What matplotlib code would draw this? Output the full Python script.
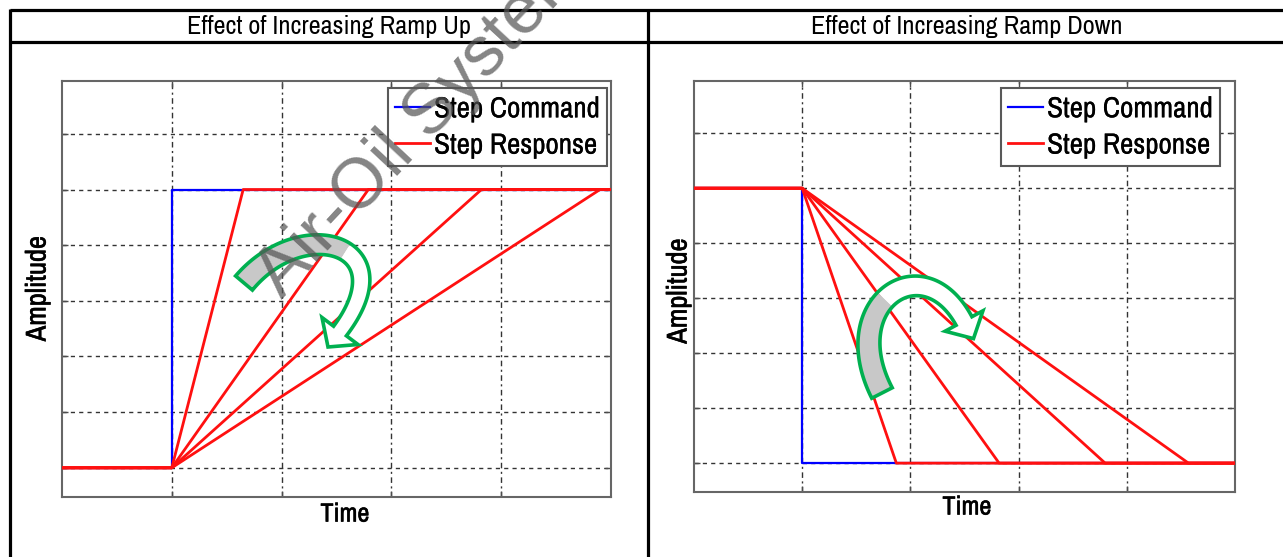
import matplotlib
matplotlib.use('Agg')
import matplotlib.pyplot as plt
import matplotlib.patheffects as pe
import numpy as np
from matplotlib import font_manager
from matplotlib.patches import Polygon
from matplotlib.lines import Line2D

# ---------------- data ----------------
time_limits = (0, 5)
amp_limits = (-0.105, 1.39)
step_time = 1.0
grid_x = [1, 2, 3, 4]
grid_y = [0, 0.2, 0.4, 0.6, 0.8, 1.0, 1.2]
ramp_up_end_times = [1.65, 2.79, 3.82, 4.90]
ramp_down_end_times = [1.87, 2.82, 3.80, 4.57]
titles = ['Effect of Increasing Ramp Up', 'Effect of Increasing Ramp Down']
legend_labels = ['Step Command', 'Step Response']
x_label = 'Time'
y_label = 'Amplitude'
watermark = 'Air-Oil Systems'


# ---------------- fonts ----------------
def find_condensed():
    fl = font_manager.fontManager.ttflist
    for f in fl:
        if ('Narrow' in f.name or 'Condensed' in f.name) and f.style == 'normal':
            return dict(family=f.name)
    for f in fl:
        if str(f.stretch) in ('condensed', 'semi-condensed', 'extra-condensed') \
                and f.style == 'normal' and f.weight in (400, 'normal', 'regular', 'book'):
            return dict(family=f.name, stretch=f.stretch)
    return dict(family=['Roboto', 'Liberation Sans', 'DejaVu Sans'])


COND = find_condensed()
REG = dict(family=['Liberation Sans', 'Roboto', 'DejaVu Sans'])

W, H = 1283, 557
fig = plt.figure(figsize=(W / 100, H / 100), dpi=100)
renderer = fig.canvas.get_renderer()


def fit_size(s, props, target_px):
    t = fig.text(0, 0, s, size=10, **props)
    w = t.get_window_extent(renderer).width
    t.remove()
    return 10.0 * target_px / w


LEG = dict(COND)
LAB = dict(COND)

title_size = fit_size(titles[0], COND, 284)
legend_size = fit_size(legend_labels[0], LEG, 166)
ylab_size = fit_size(y_label, LAB, 106)
xlab_size = fit_size(x_label, LAB, 49)
wm_size = fit_size('Air-Oil Syste', REG, 395)

heavy_leg = [pe.withStroke(linewidth=0.15, foreground='black')]
heavy_lab = [pe.withStroke(linewidth=0.4, foreground='black')]


def px_axes(x0, y0, x1, y1):
    return fig.add_axes([x0 / W, 1 - y1 / H, (x1 - x0) / W, (y1 - y0) / H])


axL = px_axes(62, 81, 611, 497)
axR = px_axes(694, 81, 1235, 492)

BLUE = '#0000ff'
RED = '#ff1010'

for ax in (axL, axR):
    ax.set_xlim(time_limits)
    ax.set_ylim(amp_limits)
    ax.set_xticks(grid_x)
    ax.set_yticks(grid_y)
    ax.tick_params(direction='in', length=4, width=1, color='0.3',
                   labelbottom=False, labelleft=False, top=True, right=True)
    for s in ax.spines.values():
        s.set_color('0.4')
        s.set_linewidth(1.5)
    ax.xaxis.grid(True, color='0.2', lw=1.0, ls=(0, (4, 2.5, 1.5, 2.5)))
    ax.yaxis.grid(True, color='0.2', lw=1.0, ls=(0, (3, 3)))
    ax.set_axisbelow(True)

# ramp up chart
axL.plot([time_limits[0], step_time, step_time, time_limits[1]], [0, 0, 1, 1],
         color=BLUE, lw=1.6, zorder=2)
for e in ramp_up_end_times:
    axL.plot([time_limits[0], step_time, e, time_limits[1]], [0, 0, 1, 1],
             color=RED, lw=2.0, zorder=3)

# ramp down chart
axR.plot([time_limits[0], step_time, step_time, time_limits[1]], [1, 1, 0, 0],
         color=BLUE, lw=1.6, zorder=2)
for e in ramp_down_end_times:
    axR.plot([time_limits[0], step_time, e, time_limits[1]], [1, 1, 0, 0],
             color=RED, lw=2.0, zorder=3)

handles = [Line2D([], [], color=BLUE, lw=1.6), Line2D([], [], color=RED, lw=2.0)]
for ax, anchor in ((axL, (0.9927, 0.983)), (axR, (0.9723, 0.983))):
    leg = ax.legend(handles, legend_labels, loc='upper right', bbox_to_anchor=anchor,
                    borderaxespad=0, frameon=True, fancybox=False, edgecolor='0.35',
                    framealpha=1, prop=dict(size=legend_size, **LEG),
                    handlelength=1.2, handletextpad=0.15, labelspacing=0.32,
                    borderpad=0.25)
    leg.get_frame().set_linewidth(1.5)
    leg.set_zorder(4)
    for txt in leg.get_texts():
        txt.set_path_effects(heavy_leg)

axL.set_xlabel(x_label, size=xlab_size, **LAB)
axL.xaxis.set_label_coords(0.5155, -0.041)
axL.xaxis.label.set_va('center')
axR.set_xlabel(x_label, size=xlab_size, **LAB)
axR.xaxis.set_label_coords(0.5046, -0.0365)
axR.xaxis.label.set_va('center')
axL.set_ylabel(y_label, size=ylab_size, **LAB)
axL.yaxis.label.set(va='center', ha='center', rotation_mode='anchor')
axL.yaxis.set_label_coords(-0.0437, 0.501)
axR.set_ylabel(y_label, size=ylab_size, **LAB)
axR.yaxis.label.set(va='center', ha='center', rotation_mode='anchor')
axR.yaxis.set_label_coords(-0.0277, 0.489)
for ax in (axL, axR):
    ax.xaxis.label.set_path_effects(heavy_lab)
    ax.yaxis.label.set_path_effects(heavy_lab)

# ---------------- overlay (table, arrows, watermark) ----------------
ov = fig.add_axes([0, 0, 1, 1], zorder=10)
ov.set_xlim(0, W)
ov.set_ylim(H, 0)
ov.axis('off')
ov.patch.set_visible(False)

tbl = dict(color='black', lw=2.3, solid_capstyle='butt', clip_on=False)
ov.plot([10, W], [10, 10], **tbl)
ov.plot([10, W], [42, 42], **tbl)
ov.plot([10, 10], [9, H], **tbl)
ov.plot([648, 648], [9, H], **tbl)
ov.text(329, 27, titles[0], ha='center', va='center', size=title_size, **COND)
ov.text(967, 27, titles[1], ha='center', va='center', size=title_size, **COND)


def bez(P, t):
    P0, P1, P2, P3 = [np.array(p, float) for p in P]
    t = t[:, None]
    pt = (1 - t) ** 3 * P0 + 3 * (1 - t) ** 2 * t * P1 + 3 * (1 - t) * t ** 2 * P2 + t ** 3 * P3
    d = 3 * (1 - t) ** 2 * (P1 - P0) + 6 * (1 - t) * t * (P2 - P1) + 3 * t ** 2 * (P3 - P2)
    return pt, d / np.linalg.norm(d, axis=1)[:, None]


def curved_arrow(ax, P, w0, w1, head_w, head_len, split):
    t = np.linspace(0, 1, 150)
    c, tan = bez(P, t)
    nrm = np.stack([-tan[:, 1], tan[:, 0]], axis=1)
    w = (w0 + (w1 - w0) * t)[:, None] / 2
    left = c + nrm * w
    right = c - nrm * w
    tip = c[-1] + tan[-1] * head_len
    hb1 = c[-1] + nrm[-1] * head_w / 2
    hb2 = c[-1] - nrm[-1] * head_w / 2
    k = int(np.searchsorted(t, split))
    tail_poly = np.vstack([left[:k + 1], right[:k + 1][::-1]])
    head_poly = np.vstack([left[k:], hb1, tip, hb2, right[k:][::-1]])
    ax.add_patch(Polygon(tail_poly, closed=True, fc='#c8c8c8', ec='none', zorder=5))
    ax.add_patch(Polygon(head_poly, closed=True, fc='white', ec='none', zorder=5))
    outline = np.vstack([left, hb1, tip, hb2, right[::-1]])
    ax.add_patch(Polygon(outline, closed=True, fc='none', ec='#00b050', lw=2.6,
                         joinstyle='miter', zorder=6))


curved_arrow(ov, [(244, 283), (302, 214), (406, 243), (340, 331)], 22, 16, 45, 20, 0.55)
curved_arrow(ov, [(882, 393), (836, 303), (923, 245), (964, 321)], 23, 18, 43, 20, 0.45)

ov.text(282, 300, watermark, rotation=47, rotation_mode='anchor', ha='left',
        va='baseline', size=wm_size, color='#555555', alpha=0.72, zorder=8, **REG)

fig.savefig('out.png', dpi=100)
